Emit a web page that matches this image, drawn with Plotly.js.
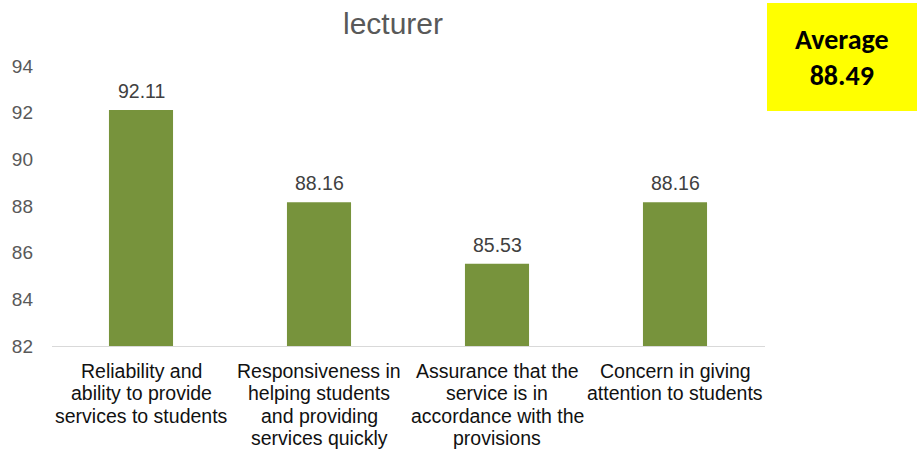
<!DOCTYPE html>
<html>
<head>
<meta charset="utf-8">
<script src="https://cdn.plot.ly/plotly-3.0.1.min.js"></script>
<style>html,body{margin:0;padding:0;background:#fff;}#chart{width:917px;height:452px;}</style>
</head>
<body>
<div id="chart"></div>
<script>
var categories = [
  "Reliability and<br>ability to provide<br>services to students",
  "Responsiveness in<br>helping students<br>and providing<br>services quickly",
  "Assurance that the<br>service is in<br>accordance with the<br>provisions",
  "Concern in giving<br>attention to students"
];
var values = [92.11, 88.16, 85.53, 88.16];
var valueLabels = ["92.11", "88.16", "85.53", "88.16"];
var chartTitle = "lecturer";
var averageText = "Average<br>88.49";

var FONT = "Liberation Sans, Arial, sans-serif";
var annotations = [];

// value labels above bars
values.forEach(function (v, i) {
  annotations.push({
    x: categories[i], y: v, xref: "x", yref: "y",
    text: valueLabels[i], showarrow: false,
    yanchor: "bottom", yshift: 6,
    font: {family: FONT, size: 19.5, color: "#404040"}
  });
});

// category labels (one annotation per line, tighter line spacing like the original)
categories.forEach(function (c) {
  c.split("<br>").forEach(function (line, j) {
    annotations.push({
      x: c, xref: "x", yref: "paper", y: 0,
      text: line, showarrow: false,
      xanchor: "center", yanchor: "middle", yshift: -(25 + j * 22.3),
      font: {family: FONT, size: 19.5, color: "#111111"}
    });
  });
});

// title
annotations.push({
  xref: "paper", yref: "paper", x: 0.4785, y: 1, xanchor: "center", yanchor: "middle",
  text: chartTitle, showarrow: false, yshift: 43,
  font: {family: FONT, size: 30, color: "#595959"}
});

// average box text
annotations.push({
  xref: "paper", yref: "paper", x: 1.108, y: 1.0286, xanchor: "center", yanchor: "middle",
  text: "<b>" + averageText + "</b>", showarrow: false,
  font: {family: "Carlito, Open Sans, DejaVu Sans, sans-serif", size: 28, color: "#000000"}
});

var layout = {
  width: 917, height: 452,
  margin: {l: 52, r: 152, t: 66, b: 106},
  paper_bgcolor: "#ffffff", plot_bgcolor: "#ffffff",
  bargap: 0.64,
  showlegend: false,
  xaxis: {
    type: "category", showgrid: false, zeroline: false,
    showline: true, linecolor: "#d9d9d9", linewidth: 1,
    ticks: "", showticklabels: false
  },
  yaxis: {
    range: [82, 94], dtick: 2, tick0: 82, showgrid: false, zeroline: false,
    showline: false, ticks: "", ticklabelstandoff: 18,
    tickfont: {family: FONT, size: 19, color: "#595959"}
  },
  annotations: annotations,
  shapes: [{
    type: "rect", xref: "paper", yref: "paper",
    x0: 1.0028, x1: 1.2132, y0: 1.225, y1: 0.839,
    fillcolor: "#ffff00", line: {width: 0}, layer: "below"
  }]
};

Plotly.newPlot("chart", [{
  type: "bar", x: categories, y: values,
  marker: {color: "#77933c"}, hoverinfo: "none"
}], layout, {displayModeBar: false, staticPlot: true});
</script>
</body>
</html>
